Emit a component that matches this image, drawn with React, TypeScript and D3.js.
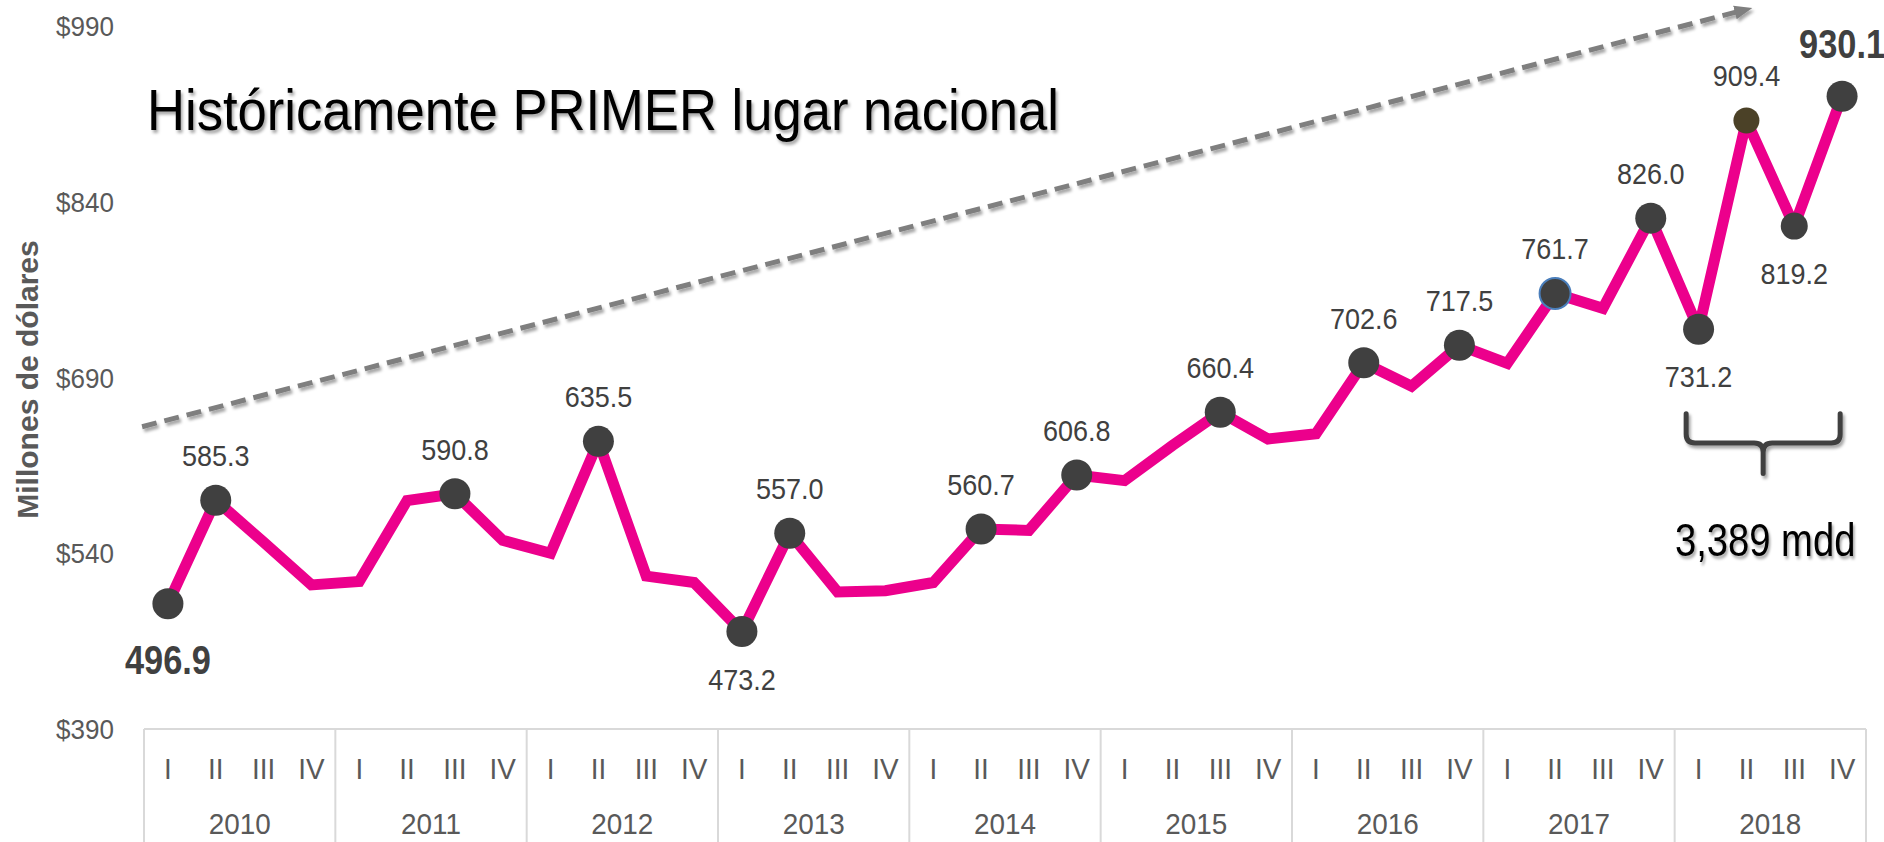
import React from 'react';
import * as d3 from 'd3';

const years = ['2010', '2011', '2012', '2013', '2014', '2015', '2016', '2017', '2018'];
const quarters = ['I', 'II', 'III', 'IV'];
const values = [
  496.9, 585.3, 549.5, 513.0,
  516.0, 585.0, 590.8, 551.0,
  540.0, 635.5, 520.5, 515.0,
  473.2, 557.0, 507.0, 508.0,
  515.0, 560.7, 559.5, 606.8,
  602.0, 632.0, 660.4, 637.5,
  642.0, 702.6, 682.5, 717.5,
  702.0, 761.7, 749.0, 826.0,
  731.2, 909.4, 819.2, 930.1,
];
const markedIdx = [0, 1, 6, 9, 12, 13, 17, 19, 22, 25, 27, 29, 31, 32, 33, 34, 35];
const belowIdx = [0, 12, 32, 34];
const boldIdx = [0, 35];
const yTicks = [390, 540, 690, 840, 990];
const title = 'Históricamente PRIMER lugar nacional';
const yTitle = 'Millones de dólares';
const totalText = '3,389 mdd';
// trend arrow endpoints in data terms (band index, value)
const trendFrom = { i: -0.54, v: 648 };
const trendTo = { i: 32.8, v: 1002 };
// bracket over 2018 (band index range, values)
const bracket = { i0: 31.74, i1: 34.96, vTop: 659, vBar: 634, vTip: 608 };

const W = 1884;
const H = 842;
const SANS = "'Liberation Sans', Arial, sans-serif";

type NTProps = {
  x: number;
  y: number;
  sx: number;
  size: number;
  anchor?: 'start' | 'middle' | 'end';
  weight?: string;
  fill: string;
  filter?: string;
  children: React.ReactNode;
};

function NText({ x, y, sx, size, anchor = 'start', weight = 'normal', fill, filter, children }: NTProps) {
  return (
    <g transform={`translate(${x},${y}) scale(${sx},1)`} filter={filter}>
      <text
        x={0}
        y={0}
        textAnchor={anchor}
        fontFamily={SANS}
        fontSize={size}
        fontWeight={weight}
        fill={fill}
      >
        {children}
      </text>
    </g>
  );
}

export default function App() {
  const keys = years.flatMap((y) => quarters.map((q) => `${y}-${q}`));
  const x = d3.scaleBand<string>().domain(keys).range([144, 1866]).padding(0);
  const bw = x.bandwidth();
  const xc = (i: number) => (x(keys[0]) as number) + bw * (i + 0.5);
  const y = d3.scaleLinear().domain([390, 990]).range([729, 26]);

  const line = d3
    .line<number>()
    .x((_, i) => xc(i))
    .y((d) => y(d));

  const tx0 = xc(trendFrom.i), ty0 = y(trendFrom.v);
  const tx1 = xc(trendTo.i), ty1 = y(trendTo.v);

  const bL = xc(bracket.i0), bR = xc(bracket.i1), bC = (bL + bR) / 2;
  const bTop = y(bracket.vTop), bBar = y(bracket.vBar), bTip = y(bracket.vTip);
  const r = 9;
  const bracePath = [
    `M${bL},${bTop}`,
    `L${bL},${bBar - r}`,
    `Q${bL},${bBar} ${bL + r},${bBar}`,
    `L${bC - r},${bBar}`,
    `Q${bC},${bBar} ${bC},${bBar + r}`,
    `L${bC},${bTip}`,
    `M${bC},${bBar + r}`,
    `Q${bC},${bBar} ${bC + r},${bBar}`,
    `L${bR - r},${bBar}`,
    `Q${bR},${bBar} ${bR},${bBar - r}`,
    `L${bR},${bTop}`,
  ].join(' ');

  const axisY = y(390);

  return (
    <svg
      width={W}
      height={H}
      style={{ position: 'absolute', left: 0, top: 0, background: '#fff' }}
    >
      <defs>
        <filter id="shadow" x="-10%" y="-10%" width="120%" height="140%">
          <feDropShadow dx="2" dy="3" stdDeviation="1.6" floodColor="#000" floodOpacity="0.35" />
        </filter>
        <marker
          id="arrow"
          markerUnits="userSpaceOnUse"
          markerWidth="20"
          markerHeight="18"
          refX="2"
          refY="9"
          orient="auto"
        >
          <path d="M0,2 L18,9 L0,16 Z" fill="#7f7f7f" />
        </marker>
      </defs>

      {/* y tick labels */}
      {yTicks.map((t) => (
        <NText key={t} x={114} y={y(t) + 10} sx={0.93} size={28} anchor="end" fill="#595959">
          {`$${t}`}
        </NText>
      ))}

      {/* y axis title */}
      <text
        transform={`translate(38,${y(690) + 2}) rotate(-90)`}
        textAnchor="middle"
        fontFamily={SANS}
        fontWeight="bold"
        fontSize={30}
        fill="#595959"
      >
        {yTitle}
      </text>

      {/* category axis */}
      <line x1={144} x2={1866} y1={axisY} y2={axisY} stroke="#d9d9d9" strokeWidth={2} />
      {d3.range(years.length + 1).map((k) => {
        const xx = 144 + k * bw * 4;
        return <line key={k} x1={xx} x2={xx} y1={axisY} y2={H} stroke="#d9d9d9" strokeWidth={2} />;
      })}
      {keys.map((k, i) => (
        <NText key={k} x={xc(i)} y={779} sx={0.93} size={30} anchor="middle" fill="#595959">
          {quarters[i % 4]}
        </NText>
      ))}
      {years.map((yr, k) => (
        <NText key={yr} x={xc(k * 4 + 1.5)} y={834} sx={0.93} size={30} anchor="middle" fill="#595959">
          {yr}
        </NText>
      ))}

      {/* trend arrow */}
      <line
        x1={tx0}
        y1={ty0}
        x2={tx1}
        y2={ty1}
        stroke="#7f7f7f"
        strokeWidth={5}
        strokeDasharray="15 8"
        markerEnd="url(#arrow)"
        filter="url(#shadow)"
      />

      {/* title */}
      <NText x={147} y={130} sx={0.907} size={58} fill="#000" filter="url(#shadow)">
        {title}
      </NText>

      {/* series line */}
      <path
        d={line(values) as string}
        fill="none"
        stroke="#ec008c"
        strokeWidth={11}
        strokeLinejoin="miter"
        strokeMiterlimit={2}
      />

      {/* markers */}
      {markedIdx.map((i) => {
        const isOlive = i === 33;
        const isBlue = i === 29;
        const rad = isOlive ? 13 : i === 34 ? 13.5 : 15.5;
        return (
          <circle
            key={i}
            cx={xc(i)}
            cy={y(values[i])}
            r={rad}
            fill={isOlive ? '#4b4127' : '#404040'}
            stroke={isBlue ? '#4a7ebb' : 'none'}
            strokeWidth={isBlue ? 2 : 0}
          />
        );
      })}

      {/* data labels */}
      {markedIdx.map((i) => {
        const below = belowIdx.includes(i);
        const bold = boldIdx.includes(i);
        const cy = y(values[i]);
        const yy = bold
          ? below
            ? cy + 70
            : cy - 38
          : below
            ? cy + 58
            : cy - 34;
        return (
          <NText
            key={`l${i}`}
            x={xc(i)}
            y={yy}
            sx={bold ? 0.86 : 0.9}
            size={bold ? 40 : 30}
            weight={bold ? 'bold' : 'normal'}
            anchor="middle"
            fill="#404040"
          >
            {values[i].toFixed(1)}
          </NText>
        );
      })}

      {/* bracket */}
      <path
        d={bracePath}
        fill="none"
        stroke="#404040"
        strokeWidth={5}
        strokeLinecap="round"
        strokeLinejoin="round"
        filter="url(#shadow)"
      />
      <NText x={bC + 2} y={556} sx={0.83} size={46} anchor="middle" fill="#000" filter="url(#shadow)">
        {totalText}
      </NText>
    </svg>
  );
}
